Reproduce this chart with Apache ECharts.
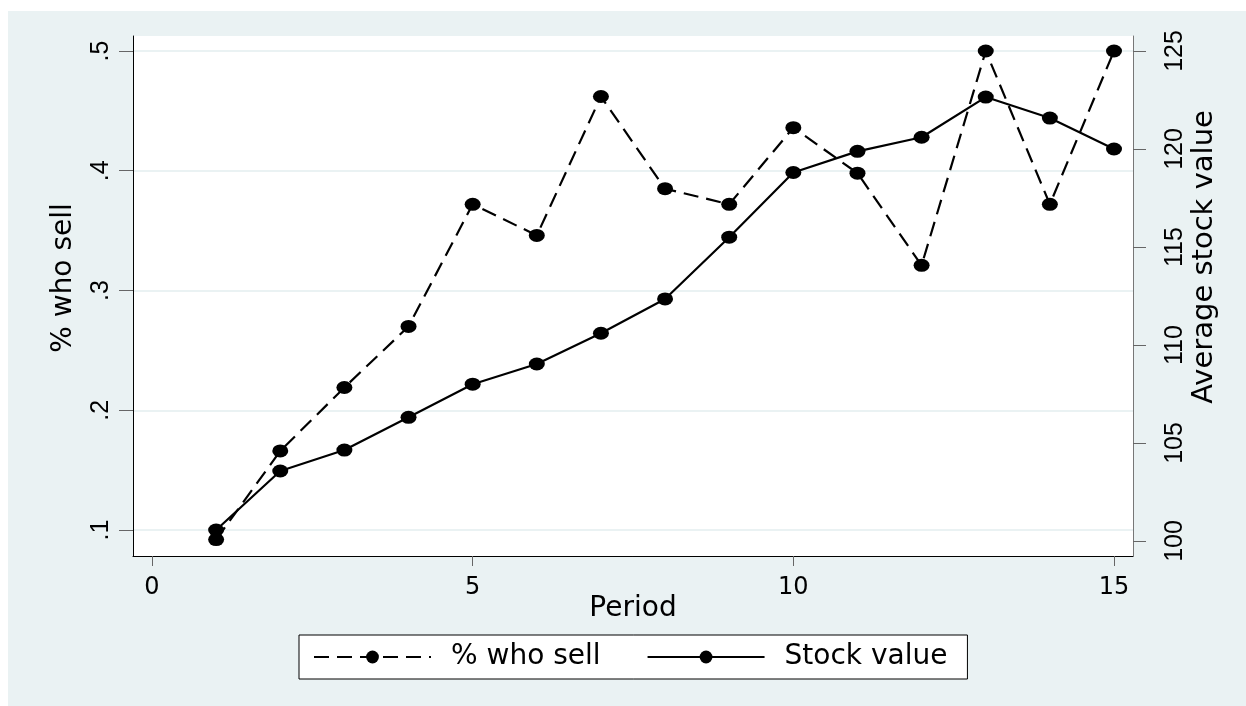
<!DOCTYPE html>
<html>
<head>
<meta charset="utf-8">
<title>% who sell vs stock value</title>
<script src="https://cdn.jsdelivr.net/npm/echarts@6.0.0/dist/echarts.min.js"></script>
<style>
  html, body { margin: 0; padding: 0; background: #fff; }
  #bg { position: absolute; left: 8px; top: 11px; width: 1238px; height: 695px; background: #eaf2f3; }
  #chart { position: absolute; left: 0; top: 0; width: 1246px; height: 706px; }
</style>
</head>
<body>
<div id="bg"></div>
<div id="chart"></div>
<script>
// data
const periods = [1, 2, 3, 4, 5, 6, 7, 8, 9, 10, 11, 12, 13, 14, 15];
const pctSell = [0.092, 0.166, 0.219, 0.270, 0.372, 0.346, 0.462, 0.385, 0.372, 0.436, 0.398, 0.321, 0.500, 0.372, 0.500];
const stockValue = [100.56, 103.57, 104.64, 106.31, 108.0, 109.03, 110.6, 112.35, 115.5, 118.8, 119.88, 120.6, 122.65, 121.58, 120.0];

const xTicks = [0, 15, 5];          // min, max, interval
const leftTicks = [0.1, 0.5, 0.1];
const rightTicks = [100, 125, 5];

const WORD_FONT = '"DejaVu Sans", sans-serif';
const DIGIT_FONT = '"Liberation Sans", Arial, sans-serif';

const chart = echarts.init(document.getElementById('chart'));

const hidden = { show: false };
const noLine = { show: false, onZero: false };
const tickGray = '#666';

chart.setOption({
  animation: false,
  grid: [
    // 0: plot box (white area + frame lines)
    { left: 133, top: 36, width: 1000, height: 520, show: true, backgroundColor: '#fff', borderWidth: 0 },
    // 1: horizontal grid lines across the full box
    { left: 133, top: 51, width: 1000, height: 479 },
    // 2: left axis data
    { left: 152, top: 51, width: 962, height: 479 },
    // 3: right axis data
    { left: 152, top: 51, width: 962, height: 490 }
  ],
  xAxis: [
    {
      gridIndex: 0, type: 'value', min: 0, max: 1, position: 'bottom',
      axisLine: { onZero: false, lineStyle: { color: '#000', width: 1 } },
      axisTick: hidden, axisLabel: hidden, splitLine: hidden
    },
    { gridIndex: 1, type: 'value', min: 0, max: 1, show: false },
    {
      gridIndex: 2, type: 'value', min: xTicks[0], max: xTicks[1], interval: xTicks[2],
      offset: 26,
      axisLine: noLine,
      axisTick: { length: 10, lineStyle: { color: tickGray, width: 1 } },
      axisLabel: { margin: 20, fontFamily: WORD_FONT, fontSize: 24, color: '#000' },
      splitLine: hidden
    },
    { gridIndex: 3, type: 'value', min: xTicks[0], max: xTicks[1], show: false }
  ],
  yAxis: [
    {
      gridIndex: 0, type: 'value', position: 'left', min: 0, max: 1,
      axisLine: { show: true, onZero: false, lineStyle: { color: '#000', width: 1 } },
      axisTick: hidden, axisLabel: hidden, splitLine: hidden
    },
    {
      gridIndex: 0, type: 'value', position: 'right', min: 0, max: 1,
      axisLine: { show: true, onZero: false, lineStyle: { color: '#777', width: 1 } },
      axisTick: hidden, axisLabel: hidden, splitLine: hidden
    },
    {
      gridIndex: 1, type: 'value', min: leftTicks[0], max: leftTicks[1], interval: leftTicks[2],
      axisLine: noLine, axisTick: hidden, axisLabel: hidden,
      splitLine: { show: true, lineStyle: { color: '#eaf2f3', width: 2 } }
    },
    {
      gridIndex: 2, type: 'value', position: 'left', offset: 19,
      min: leftTicks[0], max: leftTicks[1], interval: leftTicks[2],
      axisLine: noLine,
      axisTick: { show: true, length: 14, lineStyle: { color: tickGray, width: 1 } },
      axisLabel: {
        rotate: 90, margin: 19, fontFamily: DIGIT_FONT, fontSize: 25, color: '#000',
        formatter: v => String(Number(v.toFixed(1))).replace(/^0\./, '.')
      },
      splitLine: hidden
    },
    {
      gridIndex: 3, type: 'value', position: 'right', offset: 19,
      min: rightTicks[0], max: rightTicks[1], interval: rightTicks[2],
      axisLine: noLine,
      axisTick: { show: true, length: 13, lineStyle: { color: tickGray, width: 1 } },
      axisLabel: { rotate: 90, margin: 30, fontFamily: DIGIT_FONT, fontSize: 25, color: '#000' },
      splitLine: hidden
    }
  ],
  legend: {
    left: 299, top: 635,
    data: ['% who sell', 'Stock value'],
    itemWidth: 117, itemHeight: 16, itemGap: 46,
    padding: [8, 20, 8, 14],
    backgroundColor: '#fff', borderColor: '#000', borderWidth: 1, borderRadius: 0,
    textStyle: { fontFamily: WORD_FONT, fontSize: 28, color: '#000', padding: [0, 0, 0, 15] }
  },
  graphic: [
    {
      type: 'text', x: 64, y: 278, rotation: Math.PI / 2,
      style: { text: '% who sell', fontFamily: WORD_FONT, fontSize: 28, fill: '#000', align: 'center', verticalAlign: 'middle' }
    },
    {
      type: 'text', x: 1204, y: 257, rotation: Math.PI / 2,
      style: { text: 'Average stock value', fontFamily: WORD_FONT, fontSize: 29, fill: '#000', align: 'center', verticalAlign: 'middle' }
    },
    {
      type: 'text', x: 633, y: 609,
      style: { text: 'Period', fontFamily: WORD_FONT, fontSize: 28, fill: '#000', align: 'center', verticalAlign: 'middle' }
    }
  ],
  series: [
    {
      name: '% who sell', type: 'line', xAxisIndex: 2, yAxisIndex: 3,
      data: periods.map((p, i) => [p, pctSell[i]]),
      clip: false,
      symbol: 'circle', symbolSize: [16, 13],
      lineStyle: { color: '#000', width: 2.2, type: [15, 8] },
      itemStyle: { color: '#000' },
      emphasis: { disabled: true }
    },
    {
      name: 'Stock value', type: 'line', xAxisIndex: 3, yAxisIndex: 4,
      data: periods.map((p, i) => [p, stockValue[i]]),
      clip: false,
      symbol: 'circle', symbolSize: [16, 13],
      lineStyle: { color: '#000', width: 2.2 },
      itemStyle: { color: '#000' },
      emphasis: { disabled: true }
    }
  ]
});
</script>
</body>
</html>
